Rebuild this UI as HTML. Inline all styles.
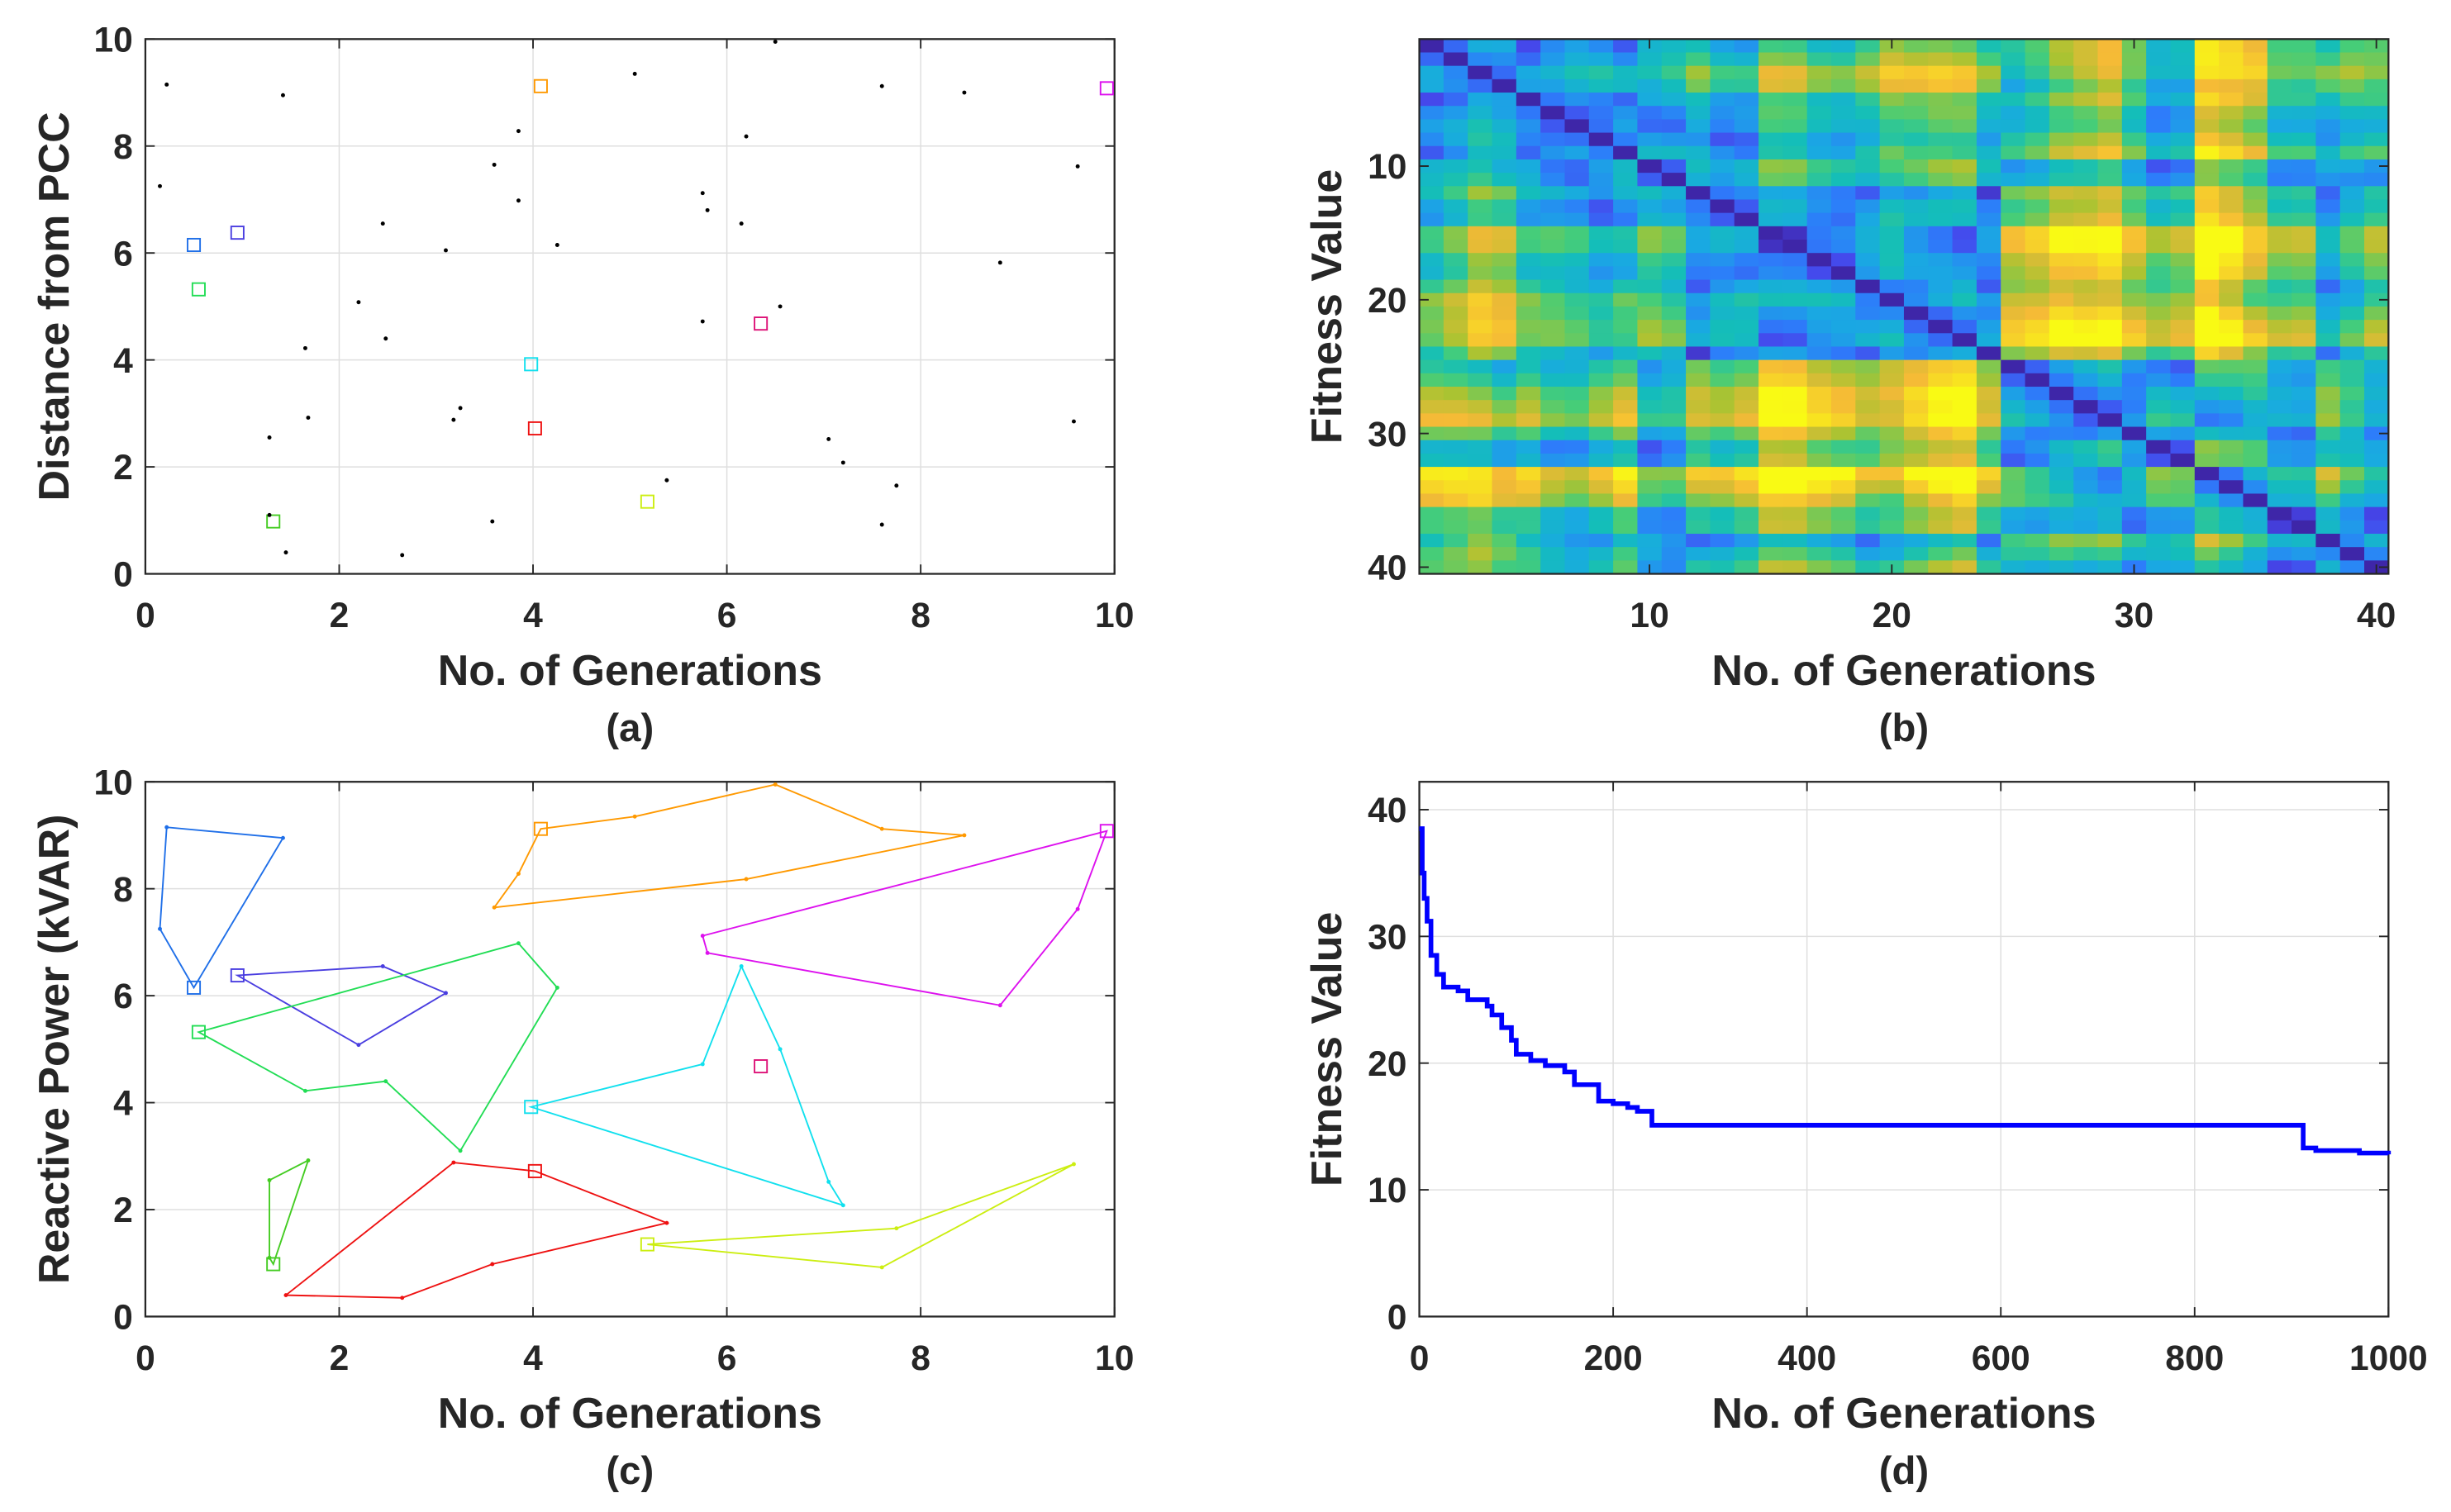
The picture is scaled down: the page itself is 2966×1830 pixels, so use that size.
<!DOCTYPE html>
<html><head><meta charset="utf-8"><style>
html,body{margin:0;padding:0;background:#fff}
svg{display:block}
text{font-family:"Liberation Sans",Arial,sans-serif;font-weight:bold;fill:#262626}
</style></head><body>
<svg id="fig" width="2966" height="1830" viewBox="0 0 1568 967" preserveAspectRatio="none" xmlns="http://www.w3.org/2000/svg">
<g id="gA"></g>
<g id="gB"></g>
<g id="gC"></g>
<g id="gD"></g>
</svg>
<script>
// cluster data (x, y) — first point of each cluster is the centre (square marker)
const clusterColors = ["#1f6fe8","#4a3ee0","#22dd55","#44cc22","#ee1111","#ff9900","#dd11ee","#11e0ee","#ccee11","#dd1177"];
const clusterX = [
 [0.5,0.15,0.22,1.42],
 [0.95,2.45,3.1,2.2],
 [0.55,3.85,4.25,3.25,2.48,1.65],
 [1.32,1.28,1.28,1.68],
 [4.02,5.38,3.58,2.65,1.45,3.18],
 [4.08,5.05,6.5,7.6,8.45,6.2,3.6,3.85],
 [9.92,9.62,8.82,5.8,5.75],
 [3.98,5.75,6.15,6.55,7.05,7.2],
 [5.18,7.75,9.58,7.6],
 [6.35]];
const clusterY = [
 [6.15,7.25,9.15,8.95],
 [6.38,6.55,6.05,5.08],
 [5.32,6.98,6.15,3.1,4.4,4.22],
 [0.98,1.1,2.55,2.92],
 [2.72,1.75,0.98,0.35,0.4,2.88],
 [9.12,9.35,9.95,9.12,9.0,8.18,7.65,8.28],
 [9.08,7.62,5.82,6.8,7.12],
 [3.92,4.72,6.55,5.0,2.52,2.08],
 [1.35,1.65,2.85,0.92],
 [4.68]];
// convergence curve (generation, fitness)
const genX = [0,3,5,8,12,18,25,40,50,55,70,75,85,95,100,115,130,150,160,185,200,215,225,240,910,912,925,970,1000];
const fitY = [38.5,35,33,31.2,28.5,27,26,25.7,25,25,24.5,23.8,22.8,21.8,20.7,20.2,19.8,19.3,18.3,17,16.8,16.5,16.2,15.1,15.1,13.3,13.1,12.9,12.8];
const ticks10 = [0,2,4,6,8,10];
const ticksHmX = [10,20,30,40];
const ticksDX = [0,200,400,600,800,1000];
const ticksDY = [0,10,20,30,40];

const NS="http://www.w3.org/2000/svg";
function mk(p,tag,attrs){const e=document.createElementNS(NS,tag);for(const k in attrs)e.setAttribute(k,attrs[k]);p.appendChild(e);return e;}
function txt(p,x,y,s,size,anchor,rot){const t=mk(p,"text",{x:x,y:y,"font-size":size,"text-anchor":anchor||"middle"});if(rot)t.setAttribute("transform","rotate(-90 "+x+" "+y+")");t.textContent=s;return t;}

function axes(g,L,R,T,B,xs,ys,xt,yt,xlab,ylab,cap,grid){
  if(grid){
    xt.forEach(v=>{const X=xs(v);const l=mk(g,"line",{x1:X,x2:X,y1:T,y2:B,stroke:"#dfdfdf","stroke-width":0.8});});
    yt.forEach(v=>{const Y=ys(v);const l=mk(g,"line",{x1:L,x2:R,y1:Y,y2:Y,stroke:"#dfdfdf","stroke-width":0.8});});
  }
  xt.forEach(v=>{const X=xs(v);const t=txt(g,X,B+34,String(v),22.5);
    mk(g,"line",{x1:X,x2:X,y1:B,y2:B-6,stroke:"#262626","stroke-width":1});mk(g,"line",{x1:X,x2:X,y1:T,y2:T+6,stroke:"#262626","stroke-width":1});});
  yt.forEach(v=>{const Y=ys(v);const t=txt(g,L-8,Y+8,String(v),22.5,"end");
    mk(g,"line",{x1:L,x2:L+6,y1:Y,y2:Y,stroke:"#262626","stroke-width":1});mk(g,"line",{x1:R,x2:R-6,y1:Y,y2:Y,stroke:"#262626","stroke-width":1});});
  const b=mk(g,"rect",{x:L,y:T,width:R-L,height:B-T,fill:"none",stroke:"#262626","stroke-width":1.2});
  
  const xl=txt(g,(L+R)/2,B+71,xlab,27.5);
  const yl=txt(g,L-(L<500?49:50),(T+B)/2,ylab,27.5,"middle",true);
  const c=txt(g,(L+R)/2,B+107,cap,25);
}

// Panel A
(function(){
 const g=document.getElementById("gA");const L=93,R=713,T=25,B=367;
 const xs=v=>L+(R-L)*v/10, ys=v=>B-(B-T)*v/10;
 axes(g,L,R,T,B,xs,ys,ticks10,ticks10,"No. of Generations","Distance from PCC","(a)",true);
 clusterX.forEach((cx,ci)=>{cx.forEach((x,i)=>{const y=clusterY[ci][i];
   if(i===0){const r=mk(g,"rect",{x:xs(x)-4,y:ys(y)-4,width:8,height:8,fill:"none",stroke:clusterColors[ci],"stroke-width":1});}
   else{const d=mk(g,"circle",{cx:xs(x),cy:ys(y),r:1.3,fill:"#000"});}
 });});
})();
// Panel C
(function(){
 const g=document.getElementById("gC");const L=93,R=713,T=500,B=842;
 const xs=v=>L+(R-L)*v/10, ys=v=>B-(B-T)*v/10;
 axes(g,L,R,T,B,xs,ys,ticks10,ticks10,"No. of Generations","Reactive Power (kVAR)","(c)",true);
 clusterX.forEach((cx,ci)=>{
   if(cx.length>1){const pts=cx.map((x,i)=>xs(x)+","+ys(clusterY[ci][i])).join(" ");
     const p=mk(g,"polygon",{points:pts,fill:"none",stroke:clusterColors[ci],"stroke-width":1});}
   cx.forEach((x,i)=>{const y=clusterY[ci][i];
     if(i===0){const r=mk(g,"rect",{x:xs(x)-4,y:ys(y)-4,width:8,height:8,fill:"none",stroke:clusterColors[ci],"stroke-width":1});}
     else{const d=mk(g,"circle",{cx:xs(x),cy:ys(y),r:1.3,fill:clusterColors[ci]});}
   });});
})();
// Panel B heatmap: pairwise distance between the 40 nodes
(function(){
 const g=document.getElementById("gB");const L=908,R=1528,T=25,B=367;
 const px=[],py=[];clusterX.forEach((cx,ci)=>cx.forEach((x,i)=>{px.push(x);py.push(clusterY[ci][i]);}));
 const n=40;const cw=(R-L)/n,ch=(B-T)/n;
 const D=[];let mx=0;for(let i=0;i<n;i++){D.push([]);for(let j=0;j<n;j++){const d=Math.hypot(px[i]-px[j],py[i]-py[j]);D[i].push(d);if(d>mx)mx=d;}}
 const stops=[[0,[62,38,168]],[0.1,[70,70,235]],[0.25,[45,125,250]],[0.38,[25,170,225]],[0.5,[20,190,185]],[0.62,[70,205,120]],[0.74,[170,195,50]],[0.86,[245,185,55]],[1,[249,250,20]]];
 function col(t){for(let k=1;k<stops.length;k++){if(t<=stops[k][0]){const a=stops[k-1],b=stops[k];const f=(t-a[0])/(b[0]-a[0]);return "rgb("+a[1].map((c,m)=>Math.round(c+(b[1][m]-c)*f)).join(",")+")";}}return "rgb(249,250,20)";}
 for(let i=0;i<n;i++)for(let j=0;j<n;j++){const r=mk(g,"rect",{x:L+j*cw,y:T+i*ch,width:cw+0.4,height:ch+0.4,fill:col(Math.pow(D[i][j]/(mx*0.85),0.75))});}
 const xs=v=>L+(v-0.5)*cw, ys=v=>T+(v-0.5)*ch;
 axes(g,L,R,T,B,xs,ys,ticksHmX,ticksHmX,"No. of Generations","Fitness Value","(b)",false);
})();
// Panel D
(function(){
 const g=document.getElementById("gD");const L=908,R=1528,T=500,B=842;
 const xs=v=>L+(R-L)*v/1000, ys=v=>B-(B-T)*v/42.2;
 axes(g,L,R,T,B,xs,ys,ticksDX,ticksDY,"No. of Generations","Fitness Value","(d)",true);
 let d="M"+xs(genX[0])+","+ys(fitY[0]);
 for(let i=1;i<genX.length;i++){d+=" L"+xs(genX[i])+","+ys(fitY[i-1])+" L"+xs(genX[i])+","+ys(fitY[i]);}
 const p=mk(g,"path",{d:d,fill:"none",stroke:"#0000ff","stroke-width":3});
 
})();
</script>
</body></html>
